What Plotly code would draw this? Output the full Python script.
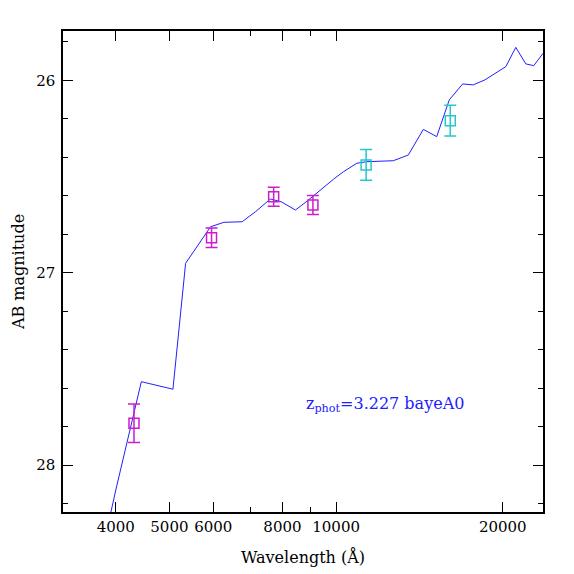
import plotly.graph_objects as go
import numpy as np

# SED model curve (wavelength in Angstrom, AB magnitude)
sed_wave = [3918, 4005, 4449, 5074, 5348, 5933, 6270, 6767, 7150, 7608, 7956,
            8444, 8862, 9362, 9893, 10312, 10901, 11363, 12689, 13504, 14372,
            15194, 16010, 16925, 17686, 18565, 19489, 20255, 21113, 22007,
            22750, 23644]
sed_mag = [28.246, 28.123, 27.566, 27.605, 26.951, 26.761, 26.738, 26.735,
           26.683, 26.617, 26.631, 26.674, 26.628, 26.569, 26.514, 26.475,
           26.431, 26.423, 26.418, 26.388, 26.255, 26.293, 26.102, 26.019,
           26.024, 25.998, 25.958, 25.929, 25.829, 25.915, 25.924, 25.860]

# Observed photometry, group 1 (magenta)
obs1_wave = [4315, 5957, 7713, 9081]
obs1_mag = [27.782, 26.818, 26.605, 26.648]
obs1_err = [0.10, 0.051, 0.049, 0.050]

# Observed photometry, group 2 (cyan)
obs2_wave = [11330, 16077]
obs2_mag = [26.44, 26.21]
obs2_err = [0.08, 0.08]

x_major = [4000, 5000, 6000, 8000, 10000, 20000]
x_major_text = ["4000", "5000", "6000", "8000", "10000", "20000"]
x_minor = [7000, 9000]

label_text = "z<sub>phot</sub>=3.227 bayeA0"

FONT = "DejaVu Serif"
MAGENTA = "#cc1ccc"
CYAN = "#22c8cc"

fig = go.Figure()
fig.add_trace(go.Scatter(x=sed_wave, y=sed_mag, mode="lines",
                         line=dict(color="#2020ff", width=1), showlegend=False))
fig.add_trace(go.Scatter(x=obs1_wave, y=obs1_mag, mode="markers",
                         marker=dict(symbol="square-open", size=10,
                                     color=MAGENTA, line=dict(width=1.5, color=MAGENTA)),
                         error_y=dict(type="data", array=obs1_err, color=MAGENTA,
                                      thickness=1.5, width=6),
                         showlegend=False))
fig.add_trace(go.Scatter(x=obs2_wave, y=obs2_mag, mode="markers",
                         marker=dict(symbol="square-open", size=10,
                                     color=CYAN, line=dict(width=1.5, color=CYAN)),
                         error_y=dict(type="data", array=obs2_err, color=CYAN,
                                      thickness=1.5, width=6),
                         showlegend=False))

fig.add_annotation(x=np.log10(8736), y=27.687, xref="x", yref="y",
                   text=label_text, showarrow=False, xanchor="left", yanchor="middle",
                   font=dict(family=FONT, size=16, color="#2020ff"))

fig.update_xaxes(type="log", range=[np.log10(3212), np.log10(23640)],
                 tickmode="array", tickvals=x_major, ticktext=x_major_text,
                 ticks="inside", ticklen=10, tickwidth=1, tickcolor="black",
                 minor=dict(tickmode="array", tickvals=x_minor, ticks="inside",
                            ticklen=5, tickwidth=1, tickcolor="black", showgrid=False),
                 showline=True, linecolor="black", linewidth=1.5, mirror="ticks",
                 showgrid=False, zeroline=False, automargin=False,
                 tickfont=dict(family=FONT, size=15, color="black"),
                 title=dict(text="Wavelength (Å)", standoff=17,
                            font=dict(family=FONT, size=16, color="black")))
fig.update_yaxes(range=[28.243, 25.744], tickmode="array", tickvals=[26, 27, 28],
                 ticktext=["26", "27", "28"],
                 ticks="inside", ticklen=10, tickwidth=1, tickcolor="black",
                 minor=dict(dtick=0.2, ticks="inside", ticklen=5, tickwidth=1,
                            tickcolor="black", showgrid=False),
                 showline=True, linecolor="black", linewidth=1.5, mirror="ticks",
                 showgrid=False, zeroline=False, ticklabelstandoff=3, automargin=False,
                 tickfont=dict(family=FONT, size=15, color="black"),
                 title=dict(text="AB magnitude", standoff=8,
                            font=dict(family=FONT, size=16, color="black")))

fig.update_layout(width=566, height=566, margin=dict(l=55, r=31, t=23, b=62),
                  plot_bgcolor="white", paper_bgcolor="white")

fig.write_html("out.html")
